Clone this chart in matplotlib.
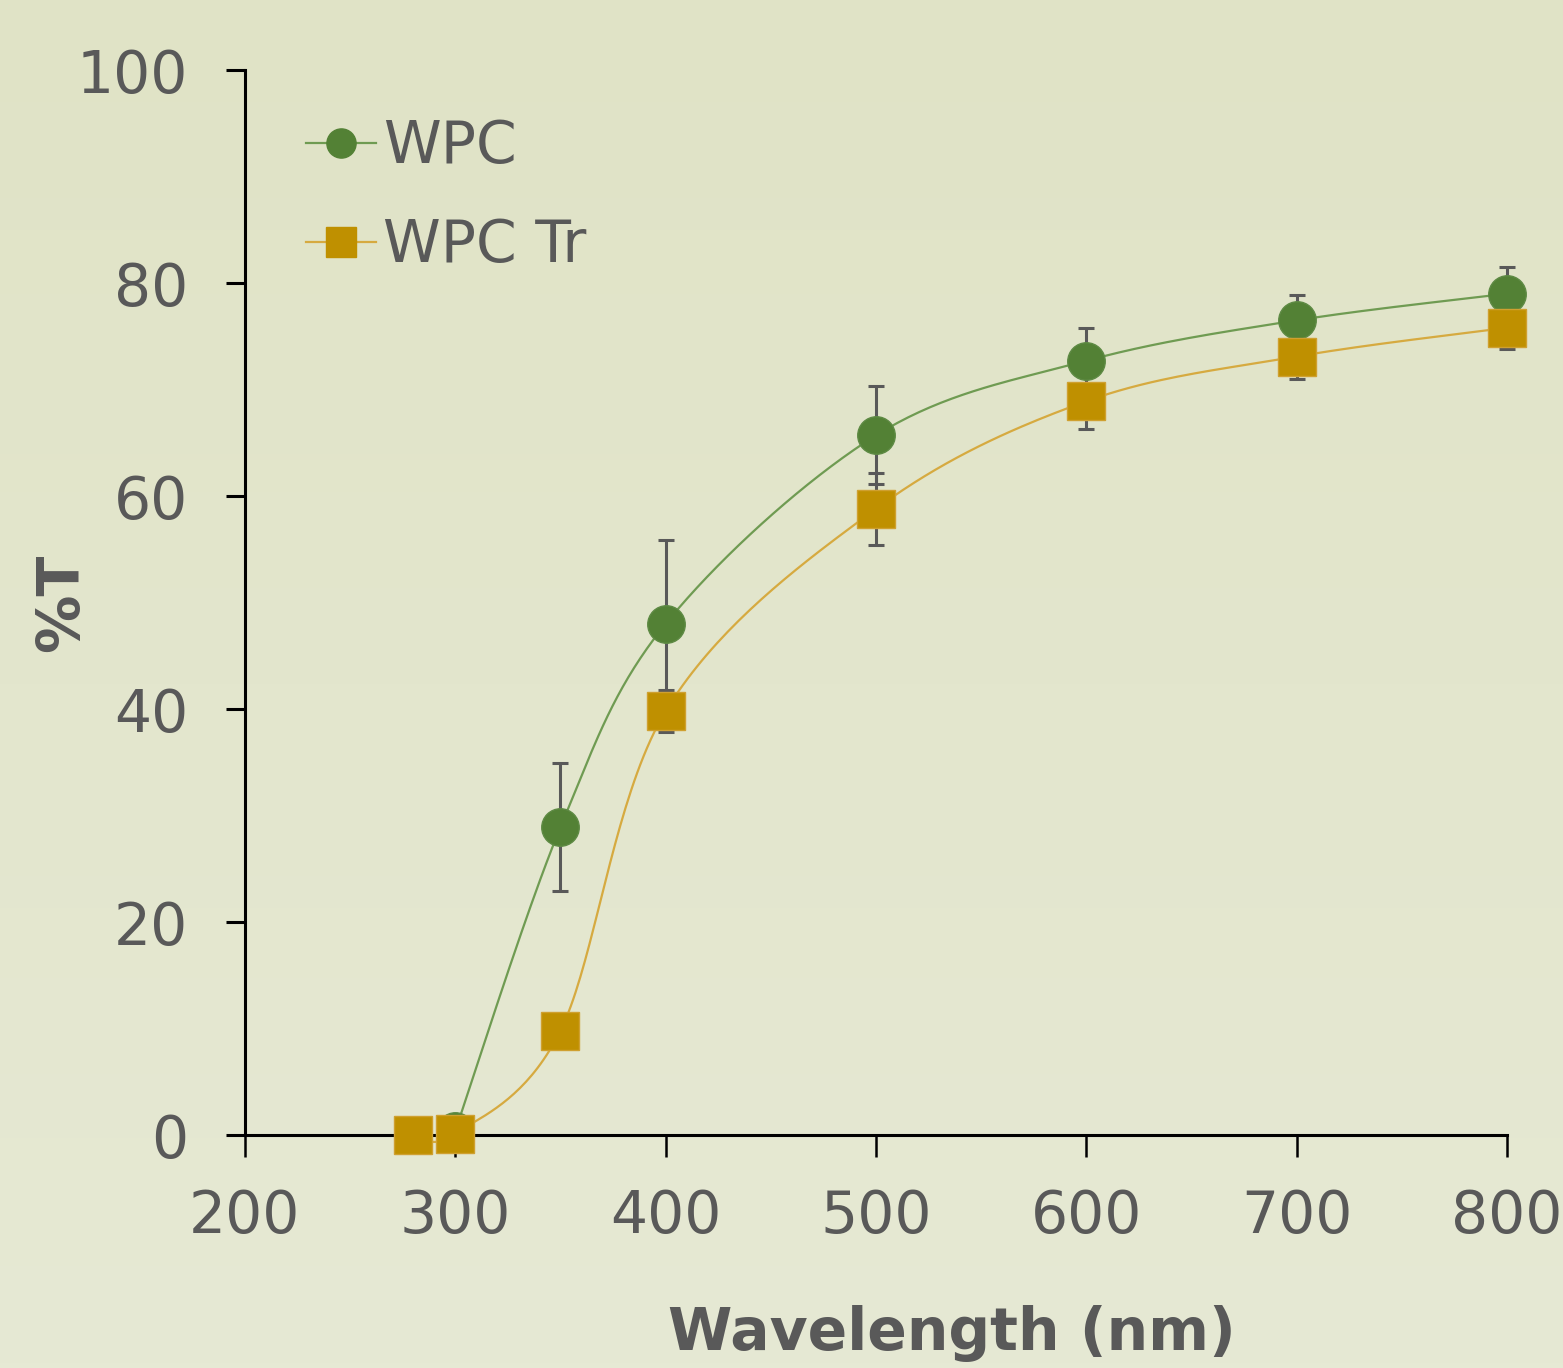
import numpy as np
import matplotlib.pyplot as plt
from matplotlib.colors import LinearSegmentedColormap

plt.rcParams['font.family'] = ['DejaVu Sans']

# data
wl_wpc = [300, 350, 400, 500, 600, 700, 800]
t_wpc = [0.4, 28.9, 48.0, 65.7, 72.7, 76.5, 79.0]
err_wpc = [0.0, 6.0, 7.9, 4.6, 3.1, 2.4, 2.5]

wl_tr = [280, 300, 350, 400, 500, 600, 700, 800]
t_tr = [0.0, 0.1, 9.8, 39.8, 58.8, 68.9, 73.1, 75.8]
err_tr = [0.0, 0.0, 0.0, 2.0, 3.4, 2.6, 2.1, 2.0]

GREEN = '#538135'
GOLD = '#BF9000'
GREY = '#595959'


def smooth(x, y, n=40):
    # bezier through the points, like the smoothed lines of a spreadsheet
    p = np.column_stack([x, y]).astype(float)
    out = [p[0]]
    t = np.linspace(0, 1, n)[1:, None]
    for i in range(len(p) - 1):
        p0 = p[i - 1] if i > 0 else p[i]
        p1, p2 = p[i], p[i + 1]
        p3 = p[i + 2] if i + 2 < len(p) else p2
        c1 = p1 + (p2 - p0) / 6
        c2 = p2 - (p3 - p1) / 6
        seg = ((1 - t) ** 3) * p1 + 3 * ((1 - t) ** 2) * t * c1 + 3 * (1 - t) * t ** 2 * c2 + t ** 3 * p2
        out.extend(seg)
    out = np.array(out)
    return out[:, 0], out[:, 1]


fig = plt.figure(figsize=(15.63, 13.68), dpi=100)

# soft gradient background
bg = fig.add_axes([0, 0, 1, 1], zorder=-5)
cmap = LinearSegmentedColormap.from_list('bg', ['#E6E9D4', '#E0E3C6'])
bg.imshow(np.linspace(0, 1, 256)[:, None], aspect='auto', cmap=cmap, origin='lower', extent=[0, 1, 0, 1])
bg.axis('off')

ax = fig.add_axes([0.1567, 0.1703, 0.8075, 0.7785])
ax.patch.set_alpha(0)

ax.errorbar(wl_wpc, t_wpc, yerr=err_wpc, fmt='none', ecolor=GREY, elinewidth=2.2,
            capsize=5.5, capthick=2.2, zorder=2, clip_on=False)
ax.errorbar(wl_tr, t_tr, yerr=err_tr, fmt='none', ecolor=GREY, elinewidth=2.2,
            capsize=5.5, capthick=2.2, zorder=2, clip_on=False)

sx, sy = smooth(wl_wpc, t_wpc)
ax.plot(sx, sy, color='#6F9B52', lw=1.6, zorder=3, clip_on=False)
sx, sy = smooth(wl_tr, t_tr)
ax.plot(sx, sy, color='#D6AA40', lw=1.6, zorder=3, clip_on=False)

ax.plot(wl_wpc, t_wpc, 'o', color=GREEN, ms=27, mec='#5E8A44', mew=1, zorder=4, clip_on=False)
ax.plot(wl_tr, t_tr, 's', color=GOLD, ms=27, mec='#CFA030', mew=1, zorder=5, clip_on=False)

# legend proxies
h1, = ax.plot([], [], 'o-', color='#6F9B52', mfc=GREEN, mec=GREEN, ms=21, lw=1.6)
h2, = ax.plot([], [], 's-', color='#D6AA40', mfc=GOLD, mec=GOLD, ms=21, lw=1.6)
leg = ax.legend([h1, h2], ['WPC', 'WPC Tr'], loc='upper left', bbox_to_anchor=(0.0297, 0.9766),
                frameon=False, fontsize=42, handlelength=1.2, handletextpad=0.12,
                labelspacing=0.72, borderaxespad=0)
for txt in leg.get_texts():
    txt.set_color(GREY)

ax.set_xlim(200, 800)
ax.set_ylim(0, 100)
ax.set_xticks([200, 300, 400, 500, 600, 700, 800])
ax.set_yticks([0, 20, 40, 60, 80, 100])

for s in ['top', 'right']:
    ax.spines[s].set_visible(False)
for s in ['left', 'bottom']:
    ax.spines[s].set_linewidth(2.2)
    ax.spines[s].set_color('black')

ax.tick_params(axis='y', direction='out', length=14, width=2.2, pad=27, labelsize=42, labelcolor=GREY)
ax.tick_params(axis='x', direction='out', length=16, width=1.8, pad=22, labelsize=42, labelcolor=GREY)

ax.set_xlabel('Wavelength (nm)', fontsize=42, fontweight='bold', color=GREY)
ax.xaxis.set_label_coords(0.56, -0.16)
ax.set_ylabel('%T', fontsize=42, fontweight='bold', color=GREY)
ax.yaxis.set_label_coords(-0.123, 0.5)

fig.savefig('out.png', dpi=100)
